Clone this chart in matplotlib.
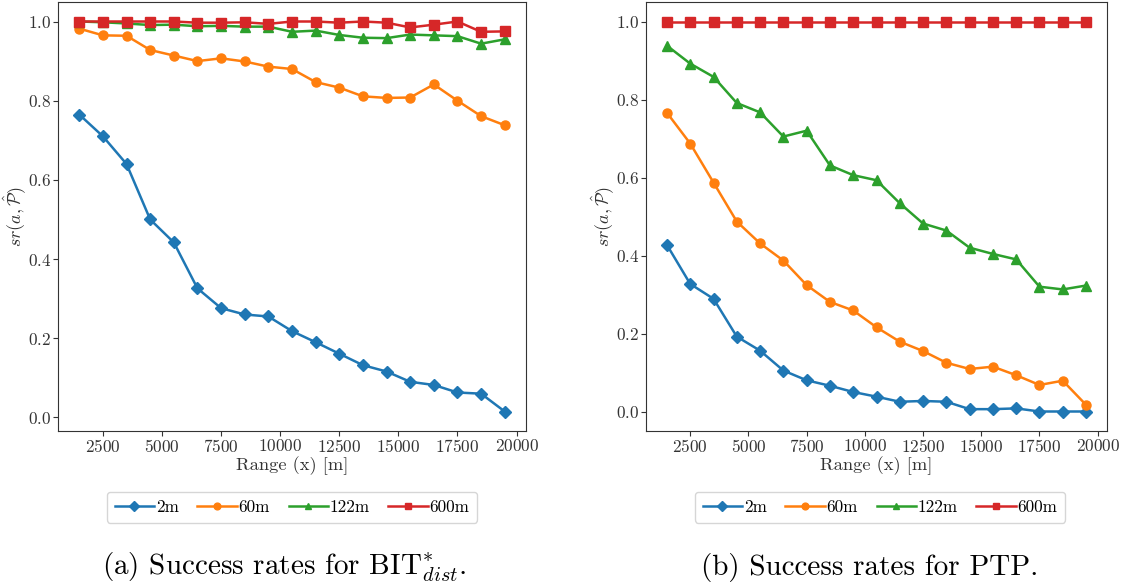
import matplotlib
matplotlib.use("Agg")
import matplotlib.pyplot as plt

plt.rcParams['font.family'] = ['cmr10', 'DejaVu Serif']
plt.rcParams['mathtext.fontset'] = 'cm'
plt.rcParams['axes.formatter.use_mathtext'] = True
plt.rcParams['axes.unicode_minus'] = False

ranges = [1500, 2500, 3500, 4500, 5500, 6500, 7500, 8500, 9500, 10500,
          11500, 12500, 13500, 14500, 15500, 16500, 17500, 18500, 19500]
labels = ['2m', '60m', '122m', '600m']

bit_2m = [0.765, 0.710, 0.640, 0.500, 0.442, 0.326, 0.276, 0.260, 0.255, 0.218,
          0.190, 0.161, 0.132, 0.116, 0.090, 0.082, 0.063, 0.060, 0.015]
bit_60m = [0.982, 0.965, 0.964, 0.928, 0.914, 0.900, 0.907, 0.899, 0.886, 0.880,
           0.847, 0.833, 0.811, 0.807, 0.808, 0.841, 0.800, 0.761, 0.738]
bit_122m = [1.000, 0.998, 0.995, 0.991, 0.992, 0.988, 0.989, 0.987, 0.987, 0.974,
            0.977, 0.966, 0.959, 0.958, 0.967, 0.965, 0.963, 0.944, 0.955]
bit_600m = [1.000, 1.000, 1.000, 1.000, 1.000, 0.997, 0.997, 0.998, 0.994, 1.000,
            1.000, 0.997, 1.000, 0.997, 0.985, 0.992, 1.000, 0.974, 0.975]

ptp_2m = [0.427, 0.327, 0.289, 0.192, 0.156, 0.105, 0.080, 0.066, 0.050, 0.038,
          0.025, 0.027, 0.025, 0.006, 0.006, 0.008, 0.000, 0.000, 0.000]
ptp_60m = [0.766, 0.687, 0.587, 0.487, 0.431, 0.387, 0.324, 0.281, 0.259, 0.216,
           0.179, 0.155, 0.125, 0.109, 0.115, 0.093, 0.068, 0.079, 0.017]
ptp_122m = [0.938, 0.892, 0.858, 0.791, 0.767, 0.705, 0.720, 0.631, 0.606, 0.593,
            0.534, 0.482, 0.464, 0.420, 0.404, 0.390, 0.320, 0.313, 0.323]
ptp_600m = [1.0] * 19

colors = ['#1f77b4', '#ff7f0e', '#2ca02c', '#d62728']
markers = ['D', 'o', '^', 's']

W, H = 1135, 587
fig = plt.figure(figsize=(W / 100, H / 100), dpi=100)
ax1 = fig.add_axes([58 / W, 1 - 431 / H, 468 / W, 429 / H])
ax2 = fig.add_axes([646 / W, 1 - 431 / H, 461 / W, 429 / H])

panels = [
    (ax1, [bit_2m, bit_60m, bit_122m, bit_600m],
     r'(a) Success rates for BIT$^{*}_{dist}$.', 292, 284),
    (ax2, [ptp_2m, ptp_60m, ptp_122m, ptp_600m],
     r'(b) Success rates for PTP.', 880, 870),
]

for ax, series, caption, leg_cx, cap_cx in panels:
    handles = []
    for vals, lab, c, m in zip(series, labels, colors, markers):
        h, = ax.plot(ranges, vals, color=c, marker=m, markersize=6.5,
                     linewidth=1.8, label=lab)
        handles.append(h)
    ax.set_xticks([2500, 5000, 7500, 10000, 12500, 15000, 17500, 20000])
    ax.set_yticks([0.0, 0.2, 0.4, 0.6, 0.8, 1.0])
    ax.tick_params(labelsize=12.3, colors='#333333', labelcolor='#333333',
                   length=3.5, pad=1.5)
    for s in ax.spines.values():
        s.set_color('#333333')
    ax.set_xlabel('Range (x) [m]', fontsize=13.3, color='#333333', labelpad=1)
    ax.set_ylabel(r'$sr(a,\hat{\mathcal{P}})$', fontsize=13, color='#333333',
                  labelpad=0)
    fig.legend(handles=handles, loc='upper center',
               bbox_to_anchor=(leg_cx / W, 1 - 492 / H), ncol=4, fontsize=12.3,
               handlelength=2.3, columnspacing=1.1, handletextpad=0.1,
               borderpad=0.45, borderaxespad=0, markerscale=0.75)
    fig.text(cap_cx / W, 1 - 575 / H, caption, ha='center', va='baseline',
             fontsize=21)

fig.savefig('out.png', dpi=100)
